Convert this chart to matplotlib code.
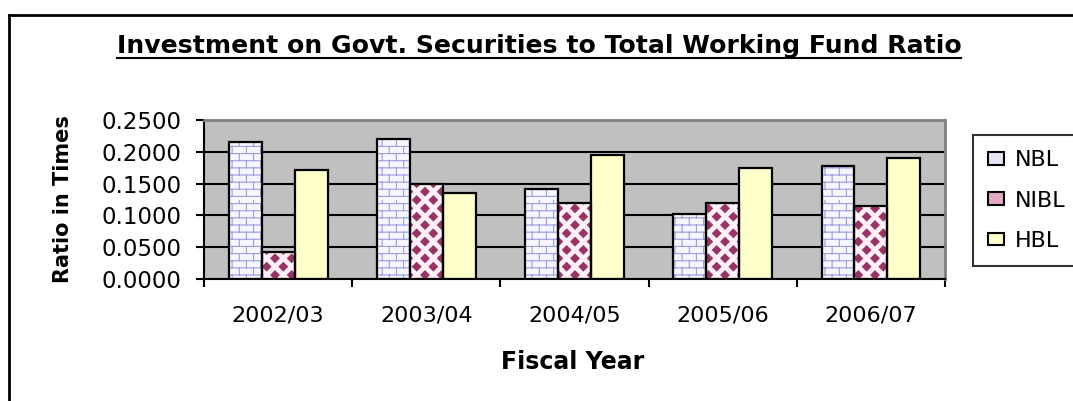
import warnings

import numpy as np
import matplotlib
matplotlib.use("Agg")
import matplotlib.pyplot as plt
import matplotlib.hatch as mhatch
from matplotlib.path import Path
from matplotlib.patches import Patch
from matplotlib.lines import Line2D

# ---------------------------------------------------------------- data
years = ["2002/03", "2003/04", "2004/05", "2005/06", "2006/07"]
banks = ["NBL", "NIBL", "HBL"]
nbl = [0.216, 0.220, 0.141, 0.102, 0.178]
nibl = [0.043, 0.149, 0.119, 0.120, 0.115]
hbl = [0.171, 0.136, 0.195, 0.174, 0.191]
yticks = [0.0, 0.05, 0.10, 0.15, 0.20, 0.25]


# ------------------------------------------------------- fill patterns
class BrickHatch(mhatch.HatchPatternBase):
    """Running-bond brick courses, one set per 'b' in the hatch string."""

    def __init__(self, hatch, density):
        self.rows = 7 * hatch.count("b")
        self.cols = self.rows // 2
        self.num_vertices = 2 * self.rows + 2 * self.rows * self.cols

    def set_vertices_and_codes(self, vertices, codes):
        h = 1.0 / self.rows
        w = 1.0 / self.cols
        segs = []
        for r in range(self.rows):
            y0 = (r + 0.5) * h
            segs.append(((0.0, y0), (1.0, y0)))
            off = 0.75 * w if r % 2 else 0.25 * w
            for c in range(self.cols):
                x = off + c * w
                segs.append(((x, y0), (x, y0 + h)))
        vertices[:] = np.asarray(segs, dtype=float).reshape(-1, 2)
        codes[0::2] = Path.MOVETO
        codes[1::2] = Path.LINETO


class DiamondHatch(mhatch.HatchPatternBase):
    """Filled diamonds on a checkerboard, one set per 'd' in the hatch string."""

    def __init__(self, hatch, density):
        n = 6 * hatch.count("d")
        self.n = n
        if n:
            corner = [(i / n, j / n) for i in range(n + 1) for j in range(n + 1)]
            middle = [((i + 0.5) / n, (j + 0.5) / n)
                      for i in range(n) for j in range(n)]
            self.centres = corner + middle
        else:
            self.centres = []
        self.num_vertices = 5 * len(self.centres)

    def set_vertices_and_codes(self, vertices, codes):
        r = 0.25 / self.n
        shape = np.array([[0, -r], [r, 0], [0, r], [-r, 0], [0, -r]])
        for k, (cx, cy) in enumerate(self.centres):
            vertices[5 * k:5 * k + 5] = shape + (cx, cy)
            codes[5 * k] = Path.MOVETO
            codes[5 * k + 1:5 * k + 4] = Path.LINETO
            codes[5 * k + 4] = Path.CLOSEPOLY


mhatch._hatch_types.extend([BrickHatch, DiamondHatch])
warnings.filterwarnings("ignore", message=".*hatch must consist.*")

# --------------------------------------------------------------- style
plt.rcParams["font.family"] = ["DejaVu Sans"]
plt.rcParams["hatch.linewidth"] = 0.8

W, H, DPI = 1073, 401, 100
fig = plt.figure(figsize=(W / DPI, H / DPI), dpi=DPI)
fig.patch.set_facecolor("white")

# plot area in pixel terms
left, right, top, bottom = 204, 945, 120, 279
ax = fig.add_axes([left / W, 1 - bottom / H, (right - left) / W, (bottom - top) / H])
ax.set_facecolor("#C0C0C0")

x = np.arange(len(years))
bw = 1 / 4.5
series = [
    (nbl, "#F6F6FF", "bb", "#9C9CE0"),
    (nibl, "#FFEFF6", "d", "#993366"),
    (hbl, "#FFFFCC", None, None),
]
for i, (vals, face, hatch, hcol) in enumerate(series):
    pos = x + (i - 1) * bw
    ax.bar(pos, vals, width=bw, color=face, hatch=hatch,
           edgecolor=hcol if hcol else face, linewidth=0, zorder=2)
    ax.bar(pos, vals, width=bw, fill=False, edgecolor="black",
           linewidth=1.6, zorder=3)

ax.set_xlim(-0.5, len(years) - 0.5)
ax.set_ylim(0, 0.25)
ax.set_yticks(yticks)
ax.set_yticklabels([f"{v:.4f}" for v in yticks])

# category boundary ticks (major) and centred labels (minor)
ax.set_xticks(np.arange(len(years) + 1) - 0.5)
ax.set_xticklabels([])
ax.set_xticks(x, minor=True)
ax.set_xticklabels(years, minor=True)
ax.tick_params(axis="x", which="major", direction="out", length=6, width=1.5)
ax.tick_params(axis="x", which="minor", length=0, pad=19, labelsize=16)
ax.tick_params(axis="y", direction="out", length=6, width=1.5, pad=10,
               labelsize=16.5)

ax.yaxis.grid(True, color="black", linewidth=1.5)
ax.set_axisbelow(True)

for side in ("left", "bottom"):
    ax.spines[side].set_color("black")
    ax.spines[side].set_linewidth(1.5)
for side in ("top", "right"):
    ax.spines[side].set_color("#808080")
    ax.spines[side].set_linewidth(2.0)

ax.set_ylabel("Ratio in Times", fontsize=15, fontweight="bold", va="center")
ax.yaxis.set_label_coords(-0.19, 0.5)
ax.set_xlabel("Fiscal Year", fontsize=17, fontweight="bold", va="center")
ax.xaxis.set_label_coords(0.498, -0.525)

# legend
handles = [
    Patch(facecolor="#E4E4F6", edgecolor="black", linewidth=1.5),
    Patch(facecolor="#E2A8C4", edgecolor="black", linewidth=1.5),
    Patch(facecolor="#FFFFCC", edgecolor="black", linewidth=1.5),
]
leg = fig.legend(handles, banks, loc="upper left",
                 bbox_to_anchor=(973 / W, 1 - 135 / H),
                 bbox_transform=fig.transFigure, fontsize=16,
                 frameon=True, fancybox=False, shadow=False,
                 handlelength=0.7, handleheight=0.5, handletextpad=0.5,
                 labelspacing=0.92, borderpad=0.68, borderaxespad=0)
leg.get_frame().set_edgecolor("black")
leg.get_frame().set_linewidth(1.5)

# chart frame (left and top edges)
fig.add_artist(Line2D([9 / W, 9 / W], [0, 1 - 15 / H], transform=fig.transFigure,
                      color="black", linewidth=2))
fig.add_artist(Line2D([9 / W, 1], [1 - 15 / H, 1 - 15 / H],
                      transform=fig.transFigure, color="black", linewidth=2))

# underlined title
title = fig.text(539 / W, 1 - 53 / H,
                 "Investment on Govt. Securities to Total Working Fund Ratio",
                 ha="center", va="baseline", fontsize=18.1, fontweight="bold")
fig.canvas.draw()
tb = title.get_window_extent(fig.canvas.get_renderer())
uy = 1 - 58 / H
fig.add_artist(Line2D([tb.x0 / W, tb.x1 / W], [uy, uy],
                      transform=fig.transFigure, color="black", linewidth=1.5))

fig.savefig("out.png", dpi=DPI)
